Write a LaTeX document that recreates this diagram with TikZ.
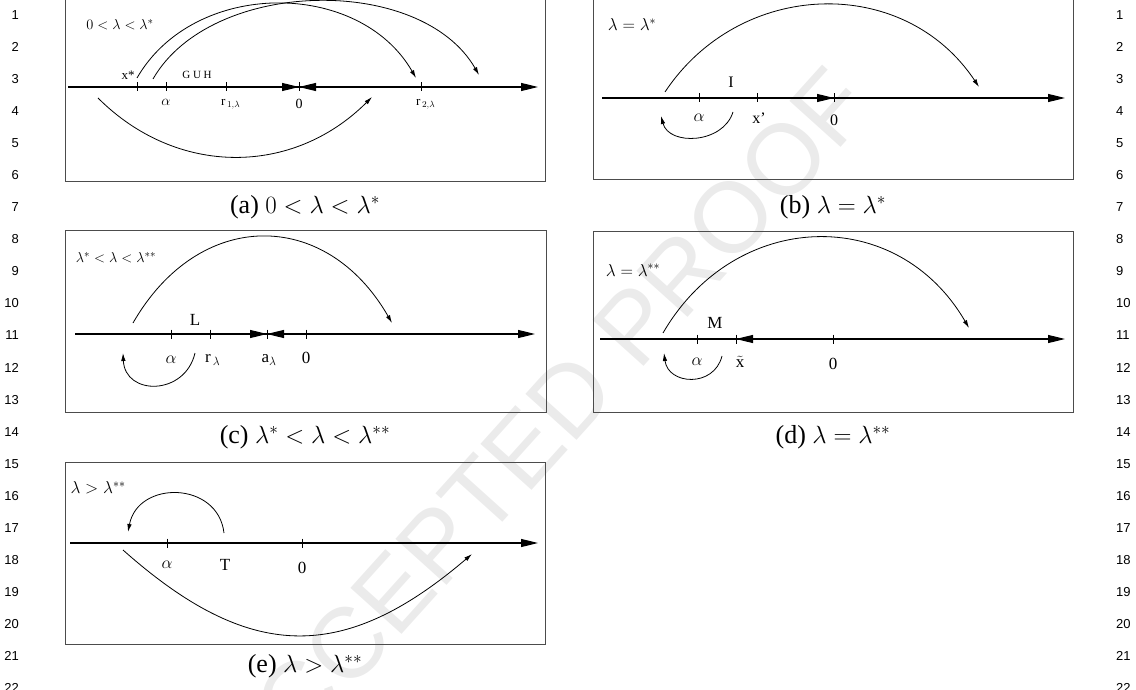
\documentclass[tikz,border=0pt]{standalone}
\usepackage{fontspec}
\setmainfont{Liberation Serif}
\newfontfamily\numfont{Liberation Sans}
\usepackage{amsmath}
\usetikzlibrary{arrows.meta, calc, positioning}

\tikzset{
  panelbox/.style={draw=black!70, line width=1pt},
  numline/.style={line width=1.2pt, -{Triangle[length=17pt,width=8pt]}},
  pointhead/.style={line width=1.2pt, -{Triangle[length=17pt,width=8pt]}},
  jump/.style={line width=0.8pt, -{Latex[length=8pt,width=4.5pt]}},
  ticmark/.style={line width=0.9pt},
  lbl/.style={inner sep=0pt, font=\fontsize{#1}{#1}\selectfont},
  lbl/.default=17,
  subcap/.style={inner sep=0pt, font=\fontsize{26}{26}\selectfont},
  numlbl/.style={inner sep=0pt, font=\numfont\fontsize{13}{13}\selectfont},
  wmark/.style={inner sep=0pt, rotate=48, text=black!8, font=\numfont\fontsize{100}{100}\selectfont}
}

\begin{document}
\begin{tikzpicture}[x=1pt, y=-1pt]
    \useasboundingbox (0,0) rectangle (1136,690);
    \node[wmark] (wm) at (540,430) {ACCEPTED PROOF};
    % line numbers
    \foreach \n in {1,...,22} {
      \node[numlbl, anchor=east] (ln\n) at (19, {15+(\n-1)*32.05}) {\n};
      \node[numlbl, anchor=west] (rn\n) at (1116, {15+(\n-1)*32.05}) {\n};
    }

    % (a)
    \draw[panelbox] (65,-3) rectangle (545,182);
    \coordinate (aL) at (68,87);
    \coordinate (aR) at (538,87);
    \coordinate (aX) at (137,87);
    \coordinate (aAl) at (166,87);
    \coordinate (aR1) at (226,87);
    \coordinate (aO) at (299,87);
    \coordinate (aR2) at (421,87);
    \draw[numline] (aL) -- (aR);
    \foreach \t in {aX,aAl,aR1,aO,aR2}
      \draw[ticmark] ($(\t)+(0,-4.5)$) -- ($(\t)+(0,4.5)$);
    \draw[pointhead] ($(aO)+(-19,0)$) -- (aO);
    \draw[pointhead] ($(aO)+(19,0)$) -- (aO);
    \node[lbl=13] (aXl) at (128,75) {x*};
    \node[lbl=11] (aGUH) at (197,75) {G U H};
    \node[lbl=15] (aAll) at (166,102) {$\alpha$};
    \node[lbl=13, anchor=west] (aR1l) at (221,104) {r$_{\,1,\lambda}$};
    \node[lbl=14] (aOl) at (299,104) {0};
    \node[lbl=13, anchor=west] (aR2l) at (416,104) {r$_{\,2,\lambda}$};
    \node[lbl=15] (aT) at (120,25) {$0<\lambda<\lambda^{*}$};
    \coordinate (a1s) at (137,78);
    \coordinate (a1e) at (416,78);
    \coordinate (a2s) at (153,79);
    \coordinate (a2e) at (479,75);
    \coordinate (a3s) at (98,98);
    \coordinate (a3e) at (372,97);
    \draw[jump] (a1s) .. controls +(57,-99) and +(-57,-99) .. (a1e);
    \draw[jump] (a2s) .. controls +(58,-101) and +(-58,-101) .. (a2e);
    \draw[jump] (a3s) .. controls +(79,79) and +(-79,79) .. (a3e);
    \node[subcap] (aC) at (305,207) {(a) $0<\lambda<\lambda^{*}$};

    % (b)
    \draw[panelbox] (593,-3) rectangle (1073,180);
    \coordinate (bL) at (602,98);
    \coordinate (bR) at (1065,98);
    \coordinate (bAl) at (699,98);
    \coordinate (bX) at (757,98);
    \coordinate (bO) at (834,98);
    \draw[numline] (bL) -- (bR);
    \foreach \t in {bAl,bX,bO}
      \draw[ticmark] ($(\t)+(0,-4.5)$) -- ($(\t)+(0,4.5)$);
    \draw[pointhead] ($(bO)+(-19,0)$) -- (bO);
    \node[lbl=16] (bI) at (731,82) {I};
    \node[lbl] (bAll) at (699,118) {$\alpha$};
    \node[lbl=16] (bXl) at (759,118) {x'};
    \node[lbl=16] (bOl) at (834,120) {0};
    \node[lbl=18] (bT) at (632,25) {$\lambda=\lambda^{*}$};
    \coordinate (b1s) at (665,92);
    \coordinate (b1e) at (979,87);
    \coordinate (b2s) at (733,112);
    \coordinate (b2e) at (661,116);
    \draw[jump] (b1s) .. controls +(75,-113) and +(-75,-113) .. (b1e);
    \draw[jump] (b2s) .. controls +(-10,32) and +(8,30) .. (b2e);
    \node[subcap] (bC) at (833,207) {(b) $\lambda=\lambda^{*}$};

    % (c)
    \draw[panelbox] (65,230) rectangle (546,412);
    \coordinate (cL) at (75,334);
    \coordinate (cR) at (535,334);
    \coordinate (cAl) at (171,334);
    \coordinate (cRl) at (210,334);
    \coordinate (cA) at (267,334);
    \coordinate (cO) at (306,334);
    \draw[numline] (cL) -- (cR);
    \foreach \t in {cAl,cRl,cA,cO}
      \draw[ticmark] ($(\t)+(0,-4.5)$) -- ($(\t)+(0,4.5)$);
    \draw[pointhead] ($(cA)+(-19,0)$) -- (cA);
    \draw[pointhead] ($(cA)+(19,0)$) -- (cA);
    \node[lbl] (cLl) at (195,320) {L};
    \node[lbl=18] (cAll) at (171,360) {$\alpha$};
    \node[lbl, anchor=west] (cRll) at (205,360) {r$_{\,\lambda}$};
    \node[lbl] (cAl2) at (269,360) {a$_{\lambda}$};
    \node[lbl] (cOl) at (306,358) {0};
    \node[lbl=15] (cT) at (116,258) {$\lambda^{*}<\lambda<\lambda^{**}$};
    \coordinate (c1s) at (133,323);
    \coordinate (c1e) at (392,323);
    \coordinate (c2s) at (195,353);
    \coordinate (c2e) at (123,353);
    \draw[jump] (c1s) .. controls +(66,-115) and +(-66,-115) .. (c1e);
    \draw[jump] (c2s) .. controls +(-10,43) and +(2,43) .. (c2e);
    \node[subcap] (cC) at (305,437) {(c) $\lambda^{*}<\lambda<\lambda^{**}$};

    % (d)
    \draw[panelbox] (593,231) rectangle (1073,412);
    \coordinate (dL) at (600,339);
    \coordinate (dR) at (1065,339);
    \coordinate (dAl) at (697,339);
    \coordinate (dX) at (736,339);
    \coordinate (dO) at (833,339);
    \draw[numline] (dL) -- (dR);
    \foreach \t in {dAl,dX,dO}
      \draw[ticmark] ($(\t)+(0,-4.5)$) -- ($(\t)+(0,4.5)$);
    \draw[pointhead] ($(dX)+(19,0)$) -- (dX);
    \node[lbl] (dM) at (715,323) {M};
    \node[lbl=18] (dAll) at (697,362) {$\alpha$};
    \node[lbl] (dXl) at (740,362) {$\tilde{\mathrm{x}}$};
    \node[lbl] (dOl) at (833,364) {0};
    \node[lbl=18] (dT) at (633,270) {$\lambda=\lambda^{**}$};
    \coordinate (d1s) at (663,333);
    \coordinate (d1e) at (969,328);
    \coordinate (d2s) at (722,356);
    \coordinate (d2e) at (664,353);
    \draw[jump] (d1s) .. controls +(72,-124) and +(-72,-124) .. (d1e);
    \draw[jump] (d2s) .. controls +(-8,32) and +(4,32) .. (d2e);
    \node[subcap] (dC) at (833,437) {(d) $\lambda=\lambda^{**}$};

    % (e)
    \draw[panelbox] (65,462) rectangle (545,644);
    \coordinate (eL) at (70,543);
    \coordinate (eR) at (538,543);
    \coordinate (eAl) at (167,543);
    \coordinate (eO) at (302,543);
    \draw[numline] (eL) -- (eR);
    \foreach \t in {eAl,eO}
      \draw[ticmark] ($(\t)+(0,-4.5)$) -- ($(\t)+(0,4.5)$);
    \node[lbl=18] (eAll) at (167,565) {$\alpha$};
    \node[lbl] (eTl) at (225,565) {T};
    \node[lbl] (eOl) at (302,568) {0};
    \node[lbl=18] (eT) at (98,488) {$\lambda>\lambda^{**}$};
    \coordinate (e1s) at (224,533);
    \coordinate (e1e) at (128,532);
    \coordinate (e2s) at (123,550);
    \coordinate (e2e) at (472,554);
    \draw[jump] (e1s) .. controls +(-6,-52) and +(10,-52) .. (e1e);
    \draw[jump] (e2s) .. controls +(125,111) and +(-130,111) .. (e2e);
    \node[subcap] (eC) at (305,666) {(e) $\lambda>\lambda^{**}$};
\end{tikzpicture}
\end{document}
